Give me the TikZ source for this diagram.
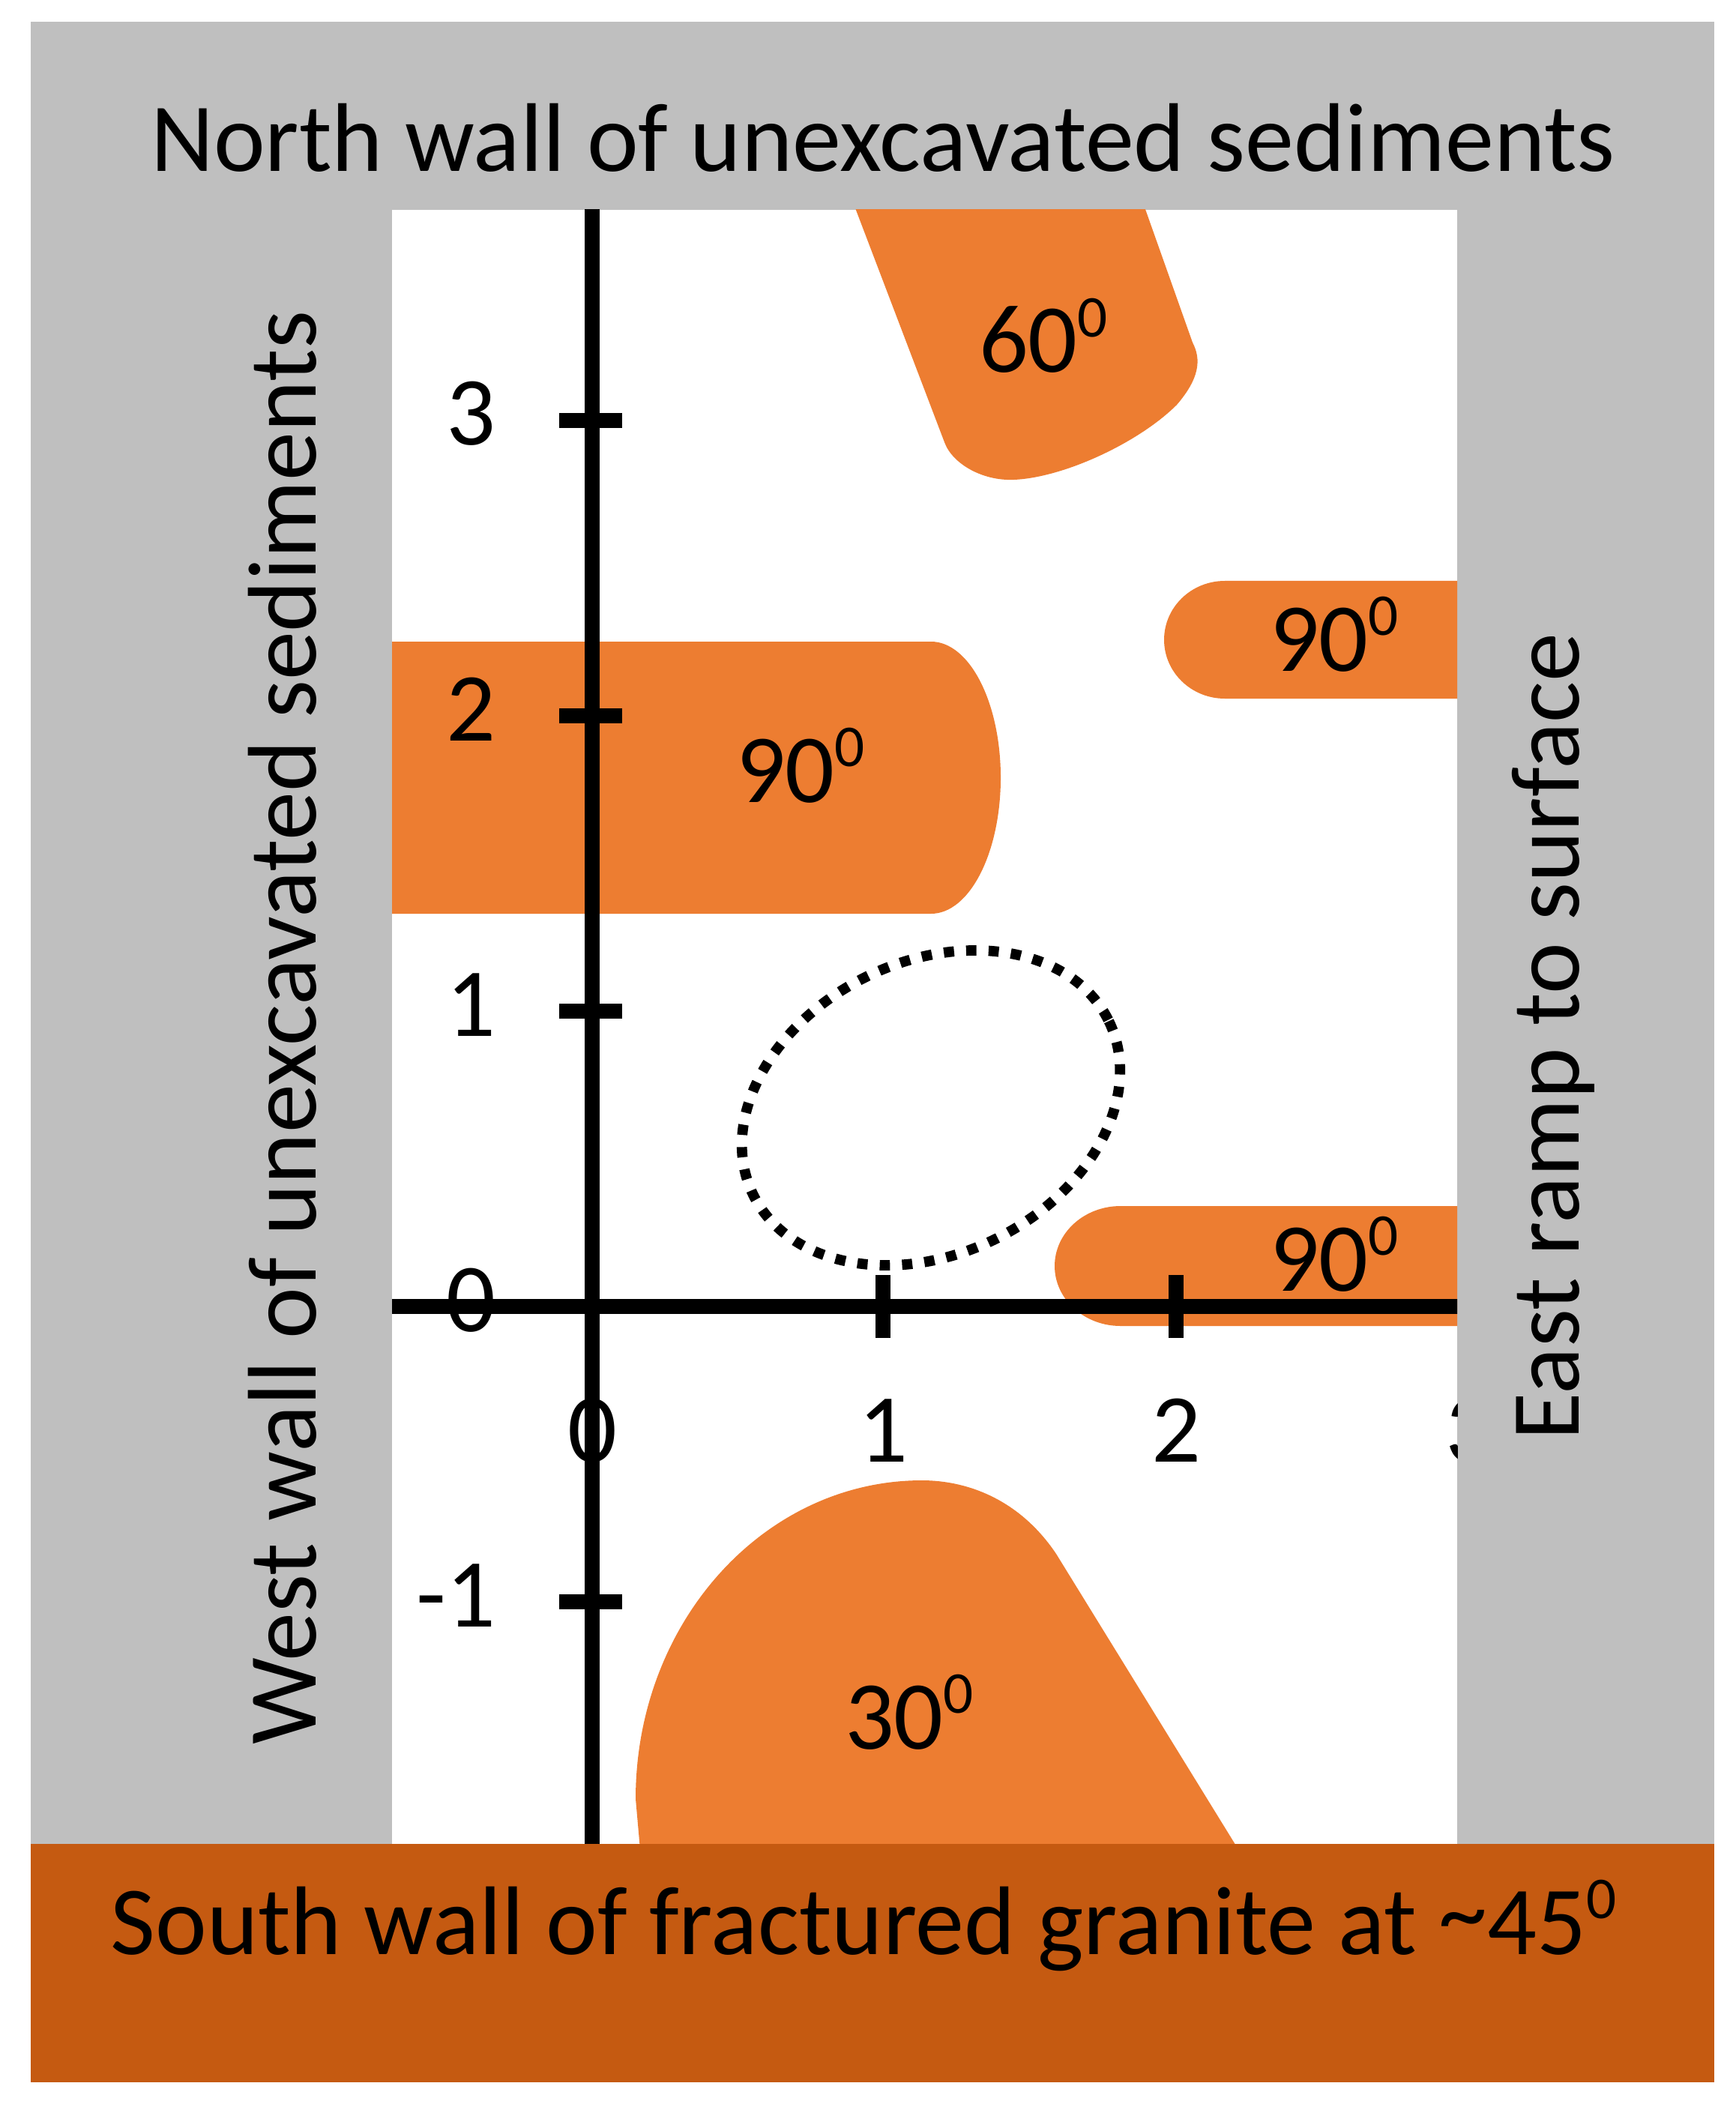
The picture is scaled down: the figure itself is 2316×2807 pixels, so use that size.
\documentclass[tikz,border=0pt]{standalone}
\usepackage{fontspec}
\setmainfont{Carlito}
\definecolor{orng}{HTML}{ED7D31}
\definecolor{brn}{HTML}{C55A11}
\definecolor{gry}{HTML}{BFBFBF}
\newcommand{\supz}{\raisebox{13.4pt}{\fontsize{22.5}{22.5}\selectfont 0}}
\tikzset{
  axisline/.style={line width=5.7pt, black},
  tickline/.style={line width=5.7pt, black},
  dotline/.style={line width=3.9pt, black, dash pattern=on 3.9pt off 4.6pt},
  bigtext/.style={font=\fontsize{37}{44}\selectfont, inner sep=0pt, text=black},
  zone/.style={fill=orng},
}
\begin{document}
\begin{tikzpicture}[x=0.01cm,y=-0.01cm]
\useasboundingbox (0,0) rectangle (2316,2807);
\fill[white] (0,0) rectangle (2316,2807);
\fill[gry] (41,29) rectangle (2287,2461);
\fill[white] (523,280) rectangle (1944,2460);
\begin{scope}
  \clip (523,280) rectangle (1944,2460);
  % 60 degree zone
  \fill[zone] (1119,220) -- (1260,590) .. controls (1270,618) and (1310,642) .. (1353,640)
     .. controls (1420,637) and (1520,590) .. (1570,540)
     .. controls (1600,505) and (1603,480) .. (1591,457) -- (1507,220) -- cycle;
  % left 90 degree zone
  \fill[zone] (480,856) -- (1242,856) .. controls (1293.4,856) and (1335,937.3) .. (1335,1037.5)
     .. controls (1335,1137.7) and (1293.4,1219) .. (1242,1219) -- (480,1219) -- cycle;
  % upper right 90 degree zone
  \fill[zone] (2000,775) -- (1634,775) .. controls (1589.3,775) and (1553,810.1) .. (1553,853.5)
     .. controls (1553,896.9) and (1589.3,932) .. (1634,932) -- (2000,932) -- cycle;
  % lower right 90 degree zone
  \fill[zone] (2000,1609) -- (1495,1609) .. controls (1446.4,1609) and (1407,1644.8) .. (1407,1689)
     .. controls (1407,1733.2) and (1446.4,1769) .. (1495,1769) -- (2000,1769) -- cycle;
  % 30 degree zone
  \fill[zone] (856,2490) -- (848,2400) .. controls (848,2165) and (1019,1975) .. (1230,1975)
     .. controls (1290,1975) and (1360,2000) .. (1409,2073) -- (1666,2490) -- cycle;
  % dotted ellipse
  \draw[dotline, rotate around={26:(1242,1478)}] (1242,1478) ellipse [x radius=264, y radius=195];
  % axes
  \coordinate (vtop) at (790,270);
  \coordinate (vbot) at (790,2470);
  \coordinate (hl) at (513,1743);
  \coordinate (hr) at (1954,1743);
  \draw[axisline] (vtop) -- (vbot);
  \draw[axisline] (hl) -- (hr);
  % y ticks
  \foreach \yy/\nm in {561/a,955/b,1349/c,1743/d,2137/e} {
    \coordinate (tl\nm) at (746,\yy);
    \coordinate (tr\nm) at (830,\yy);
    \draw[tickline] (tl\nm) -- (tr\nm);
  }
  % x ticks
  \foreach \xx/\nm in {1178/a,1569/b} {
    \coordinate (tt\nm) at (\xx,1701);
    \coordinate (tb\nm) at (\xx,1785);
    \draw[tickline] (tt\nm) -- (tb\nm);
  }
  % y labels
  \node[bigtext, anchor=base east] (y3) at (662,594) {3};
  \node[bigtext, anchor=base east] (y2) at (662,988) {2};
  \node[bigtext, anchor=base east] (y1) at (662,1382) {1};
  \node[bigtext, anchor=base east] (y0) at (662,1776) {0};
  \node[bigtext, anchor=base east] (ym1) at (662,2170) {-1};
  % x labels
  \node[bigtext, anchor=base] (x0) at (790,1950) {0};
  \node[bigtext, anchor=base] (x1) at (1178,1950) {1};
  \node[bigtext, anchor=base] (x2) at (1569,1950) {2};
  \node[bigtext, anchor=base] (x3) at (1961,1950) {3};
  % zone labels
  \node[bigtext, anchor=base] (d60) at (1392,497) {60\supz};
  \node[bigtext, anchor=base] (d90a) at (1068,1070) {90\supz};
  \node[bigtext, anchor=base] (d90b) at (1780,895) {90\supz};
  \node[bigtext, anchor=base] (d90c) at (1780,1722) {90\supz};
  \node[bigtext, anchor=base] (d30) at (1213,2333) {30\supz};
\end{scope}
\fill[brn] (41,2460) rectangle (2287,2778);
\node[bigtext, anchor=base] (north) at (1178,229) {North wall of unexcavated sediments};
\node[bigtext, anchor=base] (south) at (1152,2607) {South wall of fractured granite at \raisebox{3.4pt}{\textasciitilde}45\supz};
\node[bigtext, anchor=base, rotate=90] (west) at (421,1371) {West wall of unexcavated sediments};
\node[bigtext, anchor=base, rotate=90] (east) at (2106,1383) {East ramp to surface};
\end{tikzpicture}
\end{document}
